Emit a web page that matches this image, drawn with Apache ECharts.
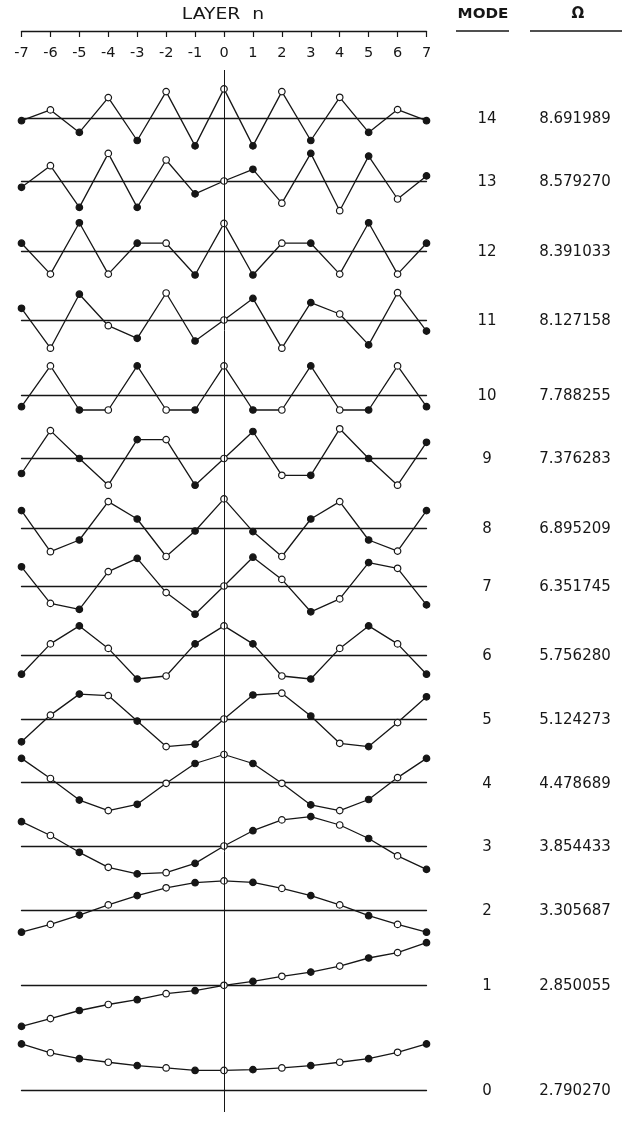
<!DOCTYPE html>
<html>
<head>
<meta charset="utf-8">
<script src="https://cdn.jsdelivr.net/npm/echarts@6/dist/echarts.min.js"></script>
<style>
  html, body { margin: 0; padding: 0; background: #fff; }
  #chart { width: 627px; height: 1124px; }
</style>
</head>
<body>
<div id="chart"></div>
<script>
// Layer indices across the stack (x axis)
const layers = [-7, -6, -5, -4, -3, -2, -1, 0, 1, 2, 3, 4, 5, 6, 7];

// Mode numbers, top row first, and their frequencies
const modes  = [14, 13, 12, 11, 10, 9, 8, 7, 6, 5, 4, 3, 2, 1, 0];
const omegas = ['8.691989', '8.579270', '8.391033', '8.127158', '7.788255',
                '7.376283', '6.895209', '6.351745', '5.756280', '5.124273',
                '4.478689', '3.854433', '3.305687', '2.850055', '2.790270'];

// Relative layer displacement of each mode shape, layers -7 .. 7
const mode14 = [-0.08, 0.28, -0.47, 0.69, -0.74, 0.89, -0.92, 0.98, -0.92, 0.89, -0.74, 0.70, -0.47, 0.29, -0.08];
const mode13 = [-0.21, 0.51, -0.88, 0.92, -0.88, 0.70, -0.43, 0.00, 0.39, -0.74, 0.92, -0.99, 0.83, -0.60, 0.17];
const mode12 = [0.26, -0.77, 0.94, -0.77, 0.26, 0.26, -0.80, 0.92, -0.80, 0.26, 0.26, -0.77, 0.94, -0.77, 0.26];
const mode11 = [0.39, -0.94, 0.86, -0.19, -0.61, 0.90, -0.70, 0.00, 0.72, -0.94, 0.58, 0.20, -0.83, 0.91, -0.37];
const mode10 = [-0.39, 0.97, -0.50, -0.50, 0.97, -0.50, -0.50, 0.97, -0.50, -0.50, 0.97, -0.50, -0.50, 0.97, -0.39];
const mode9  = [-0.50, 0.93, 0.00, -0.89, 0.63, 0.63, -0.89, 0.00, 0.90, -0.56, -0.56, 0.99, 0.00, -0.89, 0.54];
const mode8  = [0.59, -0.78, -0.39, 0.89, 0.31, -0.94, -0.09, 0.98, -0.11, -0.94, 0.31, 0.89, -0.39, -0.76, 0.59];
const mode7  = [0.64, -0.58, -0.78, 0.48, 0.92, -0.22, -0.94, 0.00, 0.96, 0.22, -0.86, -0.43, 0.78, 0.59, -0.63];
const mode6  = [-0.64, 0.37, 0.97, 0.22, -0.80, -0.70, 0.37, 0.97, 0.37, -0.70, -0.80, 0.22, 0.97, 0.37, -0.64];
const mode5  = [-0.76, 0.13, 0.83, 0.78, -0.07, -0.92, -0.84, 0.00, 0.80, 0.86, 0.10, -0.81, -0.92, -0.12, 0.74];
const mode4  = [0.81, 0.14, -0.58, -0.93, -0.72, -0.02, 0.64, 0.94, 0.64, -0.02, -0.74, -0.93, -0.56, 0.17, 0.81];
const mode3  = [0.81, 0.35, -0.21, -0.71, -0.93, -0.89, -0.58, 0.00, 0.51, 0.87, 0.98, 0.70, 0.25, -0.33, -0.78];
const mode2  = [-0.74, -0.48, -0.17, 0.17, 0.48, 0.74, 0.91, 0.97, 0.92, 0.72, 0.48, 0.17, -0.19, -0.48, -0.74];
const mode1  = [-1.37, -1.11, -0.84, -0.64, -0.48, -0.28, -0.18, 0.00, 0.13, 0.30, 0.44, 0.64, 0.91, 1.09, 1.42];
const mode0  = [2.20, 1.78, 1.50, 1.33, 1.17, 1.06, 0.94, 0.94, 0.98, 1.06, 1.17, 1.33, 1.50, 1.80, 2.20];

const shapes = [mode14, mode13, mode12, mode11, mode10, mode9, mode8, mode7,
                mode6, mode5, mode4, mode3, mode2, mode1, mode0];

// ---- layout ----
const INK = '#161616';
const FONT = "'DejaVu Sans', 'Liberation Sans', sans-serif";
const PLOT_LEFT = 21.5, PLOT_WIDTH = 405;
const UNIT_PX = 30;               // pixels per unit of displacement
const Y_MIN = -1.6, Y_MAX = 2.4;  // displacement range of every row
// zero line of each row, top to bottom
const rowBase = [118.3, 181, 251, 320, 395, 458.5, 528.3, 586, 655, 719, 782.7, 846, 910, 985.3, 1111.7];

const grids = [], xAxes = [], yAxes = [], series = [];

// Row grids: one small plot per mode, its x axis line is the zero line
shapes.forEach((vals, i) => {
  grids.push({
    left: PLOT_LEFT, width: PLOT_WIDTH,
    top: rowBase[i] - Y_MAX * UNIT_PX,
    height: (Y_MAX - Y_MIN) * UNIT_PX
  });
  xAxes.push({
    gridIndex: i, type: 'value', min: -7, max: 7, interval: 1,
    axisLine: { show: true, onZero: true, lineStyle: { color: INK, width: 1.3 } },
    axisTick: { show: false }, axisLabel: { show: false }, splitLine: { show: false }
  });
  yAxes.push({
    gridIndex: i, type: 'value', min: Y_MIN, max: Y_MAX, show: false,
    splitLine: { show: false }
  });
  series.push({
    type: 'line', xAxisIndex: i, yAxisIndex: i, clip: false, z: 3,
    symbol: 'circle', symbolSize: 6.5, showAllSymbol: true,
    lineStyle: { color: INK, width: 1.3 },
    data: vals.map((v, k) => ({
      value: [layers[k], v],
      // odd layers drawn with filled dots, even layers with open dots
      itemStyle: {
        color: Math.abs(layers[k]) % 2 === 1 ? INK : '#ffffff',
        borderColor: INK, borderWidth: 1.2
      }
    }))
  });
});

// Layer scale across the top
const axisGrid = grids.length;
grids.push({ left: PLOT_LEFT, width: PLOT_WIDTH, top: 31, height: 2 });
xAxes.push({
  gridIndex: axisGrid, type: 'value', position: 'top', min: -7, max: 7, interval: 1,
  axisLine: { show: true, onZero: false, lineStyle: { color: INK, width: 1.3 } },
  axisTick: { show: true, inside: true, length: 6, lineStyle: { color: INK, width: 1.2 } },
  axisLabel: { show: true, inside: true, margin: 15, color: INK, fontFamily: FONT, fontSize: 14.5,
               formatter: v => String(v) },
  splitLine: { show: false }
});
yAxes.push({ gridIndex: axisGrid, type: 'value', min: 0, max: 1, show: false });
series.push({ type: 'line', xAxisIndex: axisGrid, yAxisIndex: axisGrid, data: [] });

// Vertical reference line at the centre layer
const spineGrid = grids.length;
grids.push({ left: PLOT_LEFT, width: PLOT_WIDTH, top: 70, bottom: 12 });
xAxes.push({ gridIndex: spineGrid, type: 'value', min: -7, max: 7, show: false, splitLine: { show: false } });
yAxes.push({ gridIndex: spineGrid, type: 'value', min: 0, max: 1, show: false, splitLine: { show: false } });
series.push({
  type: 'line', xAxisIndex: spineGrid, yAxisIndex: spineGrid, data: [], z: 1,
  markLine: {
    silent: true, symbol: ['none', 'none'], label: { show: false },
    lineStyle: { color: INK, width: 1, type: 'solid' },
    data: [{ xAxis: 0 }]
  }
});

const chart = echarts.init(document.getElementById('chart'), null, { renderer: 'canvas' });
chart.setOption({
  animation: false,
  backgroundColor: '#ffffff',
  grid: grids, xAxis: xAxes, yAxis: yAxes, series: series
});

// Header captions and per-row mode / frequency columns
const graphics = [
  { type: 'text', x: 223, y: 15, scaleX: 1.25,
    style: { text: 'LAYER  n', font: '15px ' + FONT, fill: INK, align: 'center', verticalAlign: 'middle' } },
  { type: 'text', x: 483, y: 14, scaleX: 1.08,
    style: { text: 'MODE', font: 'bold 14px ' + FONT, fill: INK, align: 'center', verticalAlign: 'middle' } },
  { type: 'line', shape: { x1: 456, y1: 31, x2: 509, y2: 31 }, style: { stroke: INK, lineWidth: 1.3 } },
  { type: 'text', x: 578, y: 14,
    style: { text: 'Ω', font: 'bold 15px ' + FONT, fill: INK, align: 'center', verticalAlign: 'middle' } },
  { type: 'line', shape: { x1: 530, y1: 31, x2: 622, y2: 31 }, style: { stroke: INK, lineWidth: 1.5 } }
];
modes.forEach((m, i) => {
  const y = chart.convertToPixel({ gridIndex: i }, [7, 0])[1];
  graphics.push({ type: 'text', x: 487, y: y + 1,
    style: { text: String(m), font: '15px ' + FONT, fill: INK, align: 'center', verticalAlign: 'middle' } });
  graphics.push({ type: 'text', x: 575, y: y + 1,
    style: { text: omegas[i], font: '15px ' + FONT, fill: INK, align: 'center', verticalAlign: 'middle' } });
});
chart.setOption({ graphic: graphics });
</script>
</body>
</html>
